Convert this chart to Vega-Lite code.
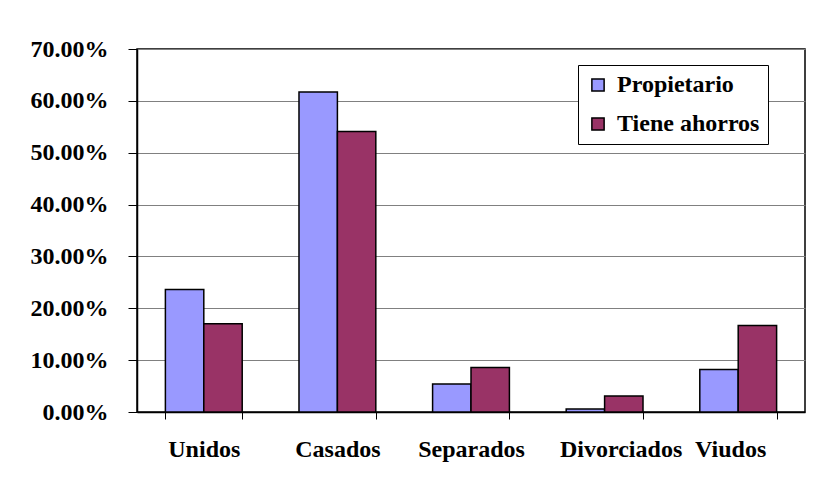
{
  "$schema": "https://vega.github.io/schema/vega-lite/v6.json",
  "width": 668,
  "height": 363,
  "autosize": {"type": "none"},
  "padding": {"left": 137, "top": 49, "right": 14, "bottom": 71},
  "background": "white",
  "data": {
    "values": [
      {"estado": "Unidos", "serie": "Propietario", "valor": 0.236},
      {"estado": "Unidos", "serie": "Tiene ahorros", "valor": 0.170},
      {"estado": "Casados", "serie": "Propietario", "valor": 0.617},
      {"estado": "Casados", "serie": "Tiene ahorros", "valor": 0.541},
      {"estado": "Separados", "serie": "Propietario", "valor": 0.054},
      {"estado": "Separados", "serie": "Tiene ahorros", "valor": 0.086},
      {"estado": "Divorciados", "serie": "Propietario", "valor": 0.006},
      {"estado": "Divorciados", "serie": "Tiene ahorros", "valor": 0.031},
      {"estado": "Viudos", "serie": "Propietario", "valor": 0.082},
      {"estado": "Viudos", "serie": "Tiene ahorros", "valor": 0.167}
    ]
  },
  "mark": {"type": "bar", "stroke": "black", "strokeWidth": 1.5},
  "encoding": {
    "x": {
      "field": "estado",
      "type": "nominal",
      "sort": ["Unidos", "Casados", "Separados", "Divorciados", "Viudos"],
      "scale": {"paddingInner": 0.425, "paddingOuter": 0.2125},
      "axis": {
        "title": null,
        "labelAngle": 0,
        "tickBand": "extent",
        "labelFont": "Liberation Serif",
        "labelFontWeight": "bold",
        "labelFontSize": 24,
        "labelColor": "black",
        "labelPadding": 18,
        "tickSize": 7,
        "tickColor": "black",
        "tickWidth": 1,
        "domainColor": "black",
        "domainWidth": 1.5,
        "grid": false,
        "labelOverlap": false,
        "labelOffset": {
          "condition": [
            {"test": "datum.value === 'Divorciados'", "value": 16},
            {"test": "datum.value === 'Viudos'", "value": -8}
          ],
          "value": 0
        }
      }
    },
    "xOffset": {
      "field": "serie",
      "type": "nominal",
      "sort": ["Propietario", "Tiene ahorros"]
    },
    "y": {
      "field": "valor",
      "type": "quantitative",
      "scale": {"domain": [0, 0.7], "nice": false},
      "axis": {
        "title": null,
        "format": ".2%",
        "values": [0, 0.1, 0.2, 0.3, 0.4, 0.5, 0.6, 0.7],
        "labelFont": "Liberation Serif",
        "labelFontWeight": "bold",
        "labelFontSize": 24,
        "labelColor": "black",
        "labelPadding": 20,
        "tickSize": 9,
        "tickColor": "black",
        "domainColor": "black",
        "domainWidth": 1.5,
        "grid": true,
        "gridColor": "#808080",
        "gridWidth": 1.2
      }
    },
    "color": {
      "field": "serie",
      "type": "nominal",
      "scale": {"domain": ["Propietario", "Tiene ahorros"], "range": ["#9999FF", "#993366"]},
      "legend": {
        "title": null,
        "orient": "none",
        "legendX": 441,
        "legendY": 16,
        "symbolType": "square",
        "symbolSize": 150,
        "symbolStrokeColor": "black",
        "symbolStrokeWidth": 1.5,
        "symbolOpacity": 1,
        "labelFont": "Liberation Serif",
        "labelFontWeight": "bold",
        "labelFontSize": 24,
        "labelColor": "black",
        "labelOffset": 7,
        "rowPadding": 15,
        "padding": 8,
        "strokeColor": "black",
        "fillColor": "white",
        "labelLimit": 300
      }
    }
  },
  "config": {
    "view": {"stroke": "black", "strokeWidth": 1.5}
  }
}
